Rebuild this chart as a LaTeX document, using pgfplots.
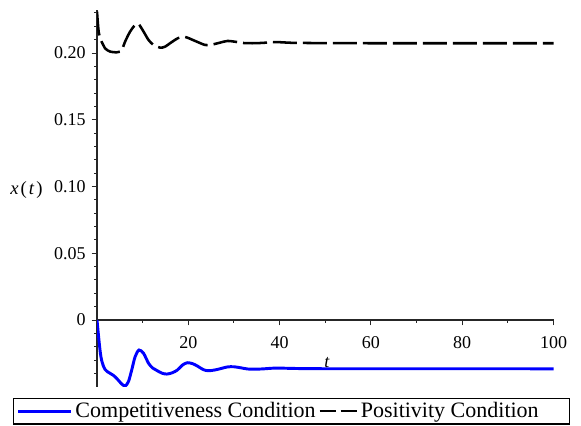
\documentclass[border=0pt]{standalone}
\usepackage{fontspec}
\setmainfont{Liberation Serif}
\usepackage{pgfplots}
\pgfplotsset{compat=1.18}

\pgfplotstableread{
t y
0 0
0.25 -0.009
0.5 -0.0175
0.75 -0.025
1.0 -0.030
1.4 -0.0345
1.75 -0.037
2.3 -0.0388
2.9 -0.040
3.6 -0.0415
4.3 -0.0437
4.9 -0.046
5.5 -0.0482
6.2 -0.0494
6.9 -0.046
7.6 -0.0375
8.35 -0.0275
9.2 -0.0225
10.2 -0.025
11.3 -0.0325
12.2 -0.036
13.1 -0.0378
14.2 -0.0398
15.3 -0.0405
16.5 -0.0395
17.6 -0.0375
18.7 -0.0338
19.8 -0.032
21 -0.0328
22 -0.0345
23.3 -0.0372
24.4 -0.038
25.7 -0.0375
27 -0.0365
28.5 -0.0352
29.9 -0.035
31.5 -0.0358
33 -0.0367
35 -0.0368
36.5 -0.0366
38 -0.0362
39.6 -0.036
42 -0.0362
45 -0.0364
50 -0.0365
60 -0.0365
70 -0.0365
80 -0.0365
90 -0.0365
100 -0.0366
}\competitive

\pgfplotstableread{
t y
0 0.231
0.2 0.222
0.4 0.215
0.7 0.2115
1.0 0.2085
1.4 0.2058
1.75 0.2035
2.3 0.202
2.9 0.201
3.6 0.2006
4.3 0.2005
5.05 0.201
5.6 0.2035
6.15 0.2085
7.25 0.216
8.35 0.221
9.1 0.2217
10.2 0.216
11.3 0.2097
12.4 0.206
13.8 0.204
14.9 0.2047
16.0 0.2073
17.8 0.2112
19.3 0.212
21.5 0.209
23.7 0.206
25.2 0.2063
27 0.2078
28.6 0.209
30.5 0.2083
32 0.2075
34 0.2073
36.5 0.2076
38.5 0.2082
40.5 0.208
43 0.2076
50 0.2074
60 0.2073
80 0.2073
100 0.2073
}\positivity

\begin{document}
\begin{tikzpicture}
\path[use as bounding box] (0,0) rectangle (435.75pt,318.75pt);
\begin{axis}[
  at={(72.75pt,28.69pt)}, anchor=south west,
  scale only axis, width=342.4pt, height=282.56pt,
  xmin=0, xmax=100, ymin=-0.05, ymax=0.2322,
  axis x line=middle, axis y line=left,
  axis line style={-, line width=0.8pt, black!85},
  tick style={line width=0.7pt, black!85},
  tick align=outside,
  major tick length=4pt, minor tick length=2.2pt,
  xtick={20,40,60,80,100},
  minor xtick={10,30,50,70,90},
  ytick={0,0.05,0.10,0.15,0.20},
  yticklabels={\textrm{0},\textrm{0.05},\textrm{0.10},\textrm{0.15},\textrm{0.20}},
  xticklabels={\textrm{20},\textrm{40},\textrm{60},\textrm{80},\textrm{100}},
  minor ytick={-0.04,-0.03,-0.02,-0.01,0.01,0.02,0.03,0.04,0.06,0.07,0.08,0.09,0.11,0.12,0.13,0.14,0.16,0.17,0.18,0.19,0.21,0.22,0.23},
  ticklabel style={font=\fontsize{13.5}{16}\selectfont},
  xticklabel style={yshift=-4.5pt},
  yticklabel style={xshift=-1pt},
  xlabel={\textit{t}},
  ylabel={\textit{x}\kern1.5pt(\kern1.5pt\textit{t}\kern1.5pt)},
  every axis x label/.style={at={(axis description cs:0.504,0.0524)}, anchor=base, font=\fontsize{13.5}{16}\selectfont},
  every axis y label/.style={at={(axis description cs:-0.1544,0.5116)}, anchor=base, font=\fontsize{14}{16}\selectfont},
  legend columns=2,
  legend style={at={(axis description cs:-0.1847,-0.1002)}, anchor=south west,
    draw=black, line width=0.8pt, inner xsep=2.5pt, inner ysep=1.2pt,
    font=\fontsize{16.5}{19}\selectfont,
    /tikz/every even column/.append style={column sep=0pt}},
]
\addplot[blue, line width=2.2pt, smooth, tension=0.5,
  legend image code/.code={\draw[blue, line width=2.2pt] (0pt,0pt) -- (40pt,0pt);}]
  table[x=t,y=y] {\competitive};
\addlegendentry{Competitiveness Condition}
\addplot[black, line width=1.9pt, smooth, tension=0.5, dash pattern=on 18pt off 4.5pt,
  legend image code/.code={\draw[black, line width=1.9pt, dash pattern=on 12.5pt off 3.3pt] (0pt,0pt) -- (28pt,0pt);}]
  table[x=t,y=y] {\positivity};
\addlegendentry{\makebox[152pt][l]{Positivity Condition}}
\end{axis}
\end{tikzpicture}
\end{document}
